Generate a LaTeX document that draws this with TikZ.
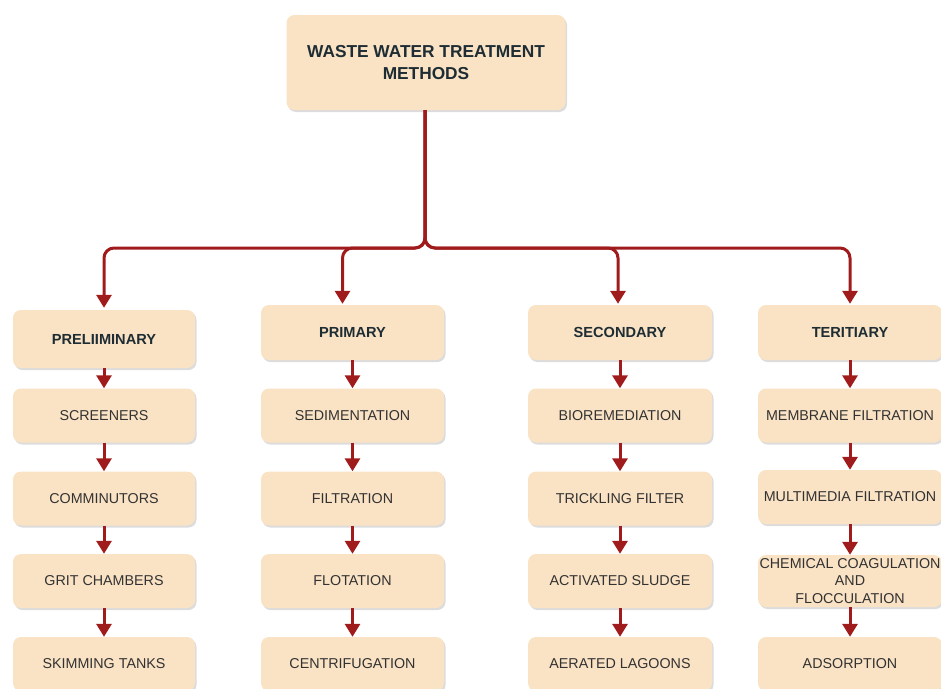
\documentclass[tikz,border=0pt]{standalone}
\usepackage{fontspec}
\setmainfont{Liberation Sans}
\usetikzlibrary{arrows.meta,shadows}
\definecolor{boxfill}{RGB}{250,226,196}
\definecolor{arrowred}{RGB}{160,28,28}
\definecolor{txt}{RGB}{50,50,50}
\definecolor{hdrtxt}{RGB}{30,45,52}
\begin{document}
\begin{tikzpicture}[x=1pt,y=-1pt,
  box/.style={fill=boxfill, rounded corners=8pt, minimum width=183pt, minimum height=54pt,
    inner sep=0pt, align=center, text=txt, font=\fontsize{14.3}{17.5}\selectfont,
    drop shadow={opacity=0.28, shadow xshift=1.5pt, shadow yshift=-2pt}},
  hdr/.style={box, text=hdrtxt, font=\fontsize{14.6}{17}\selectfont\bfseries},
  link/.style={draw=arrowred, line width=3pt, -{Triangle[width=15pt,length=13pt]}},
  branch/.style={link, rounded corners=10pt}]
\useasboundingbox (0,0) rectangle (941,688);
\clip (0,0) rectangle (941,688);

% root
\node[box, minimum width=279pt, minimum height=95pt, text=hdrtxt,
      font=\fontsize{17.3}{22}\selectfont\bfseries] (root) at (426,62.5)
      {WASTE WATER TREATMENT\\METHODS};

% headers
\node[hdr, minimum width=182pt, minimum height=58pt] (h1) at (104,339) {PRELIIMINARY};
\node[hdr, minimum height=55pt] (h2) at (352.5,332.5) {PRIMARY};
\node[hdr, minimum width=184pt, minimum height=55pt] (h3) at (620,332.5) {SECONDARY};
\node[hdr, minimum width=184pt, minimum height=55pt] (h4) at (850,332.5) {TERITIARY};

% column 1
\node[box, minimum width=182pt] (a1) at (104,415.5) {SCREENERS};
\node[box, minimum width=182pt] (a2) at (104,498.5) {COMMINUTORS};
\node[box, minimum width=182pt] (a3) at (104,581) {GRIT CHAMBERS};
\node[box, minimum width=182pt] (a4) at (104,664) {SKIMMING TANKS};
% column 2
\node[box] (b1) at (352.5,415.5) {SEDIMENTATION};
\node[box] (b2) at (352.5,498.5) {FILTRATION};
\node[box] (b3) at (352.5,581) {FLOTATION};
\node[box] (b4) at (352.5,664) {CENTRIFUGATION};
% column 3
\node[box, minimum width=184pt] (c1) at (620,415.5) {BIOREMEDIATION};
\node[box, minimum width=184pt] (c2) at (620,498.5) {TRICKLING FILTER};
\node[box, minimum width=184pt] (c3) at (620,581) {ACTIVATED SLUDGE};
\node[box, minimum width=184pt] (c4) at (620,664) {AERATED LAGOONS};
% column 4
\node[box, minimum width=184pt] (d1) at (850,415.5) {MEMBRANE FILTRATION};
\node[box, minimum width=184pt] (d2) at (850,497) {MULTIMEDIA FILTRATION};
\node[box, minimum width=184pt, minimum height=52pt] (d3) at (850,581)
      {CHEMICAL COAGULATION\\AND\\FLOCCULATION};
\node[box, minimum width=184pt] (d4) at (850,664) {ADSORPTION};

% tree branches
\coordinate (bus) at (425,248);
\coordinate (t1) at ([yshift=2pt]h1.north);
\coordinate (t2) at ([xshift=-10pt,yshift=1pt]h2.north);
\coordinate (t3) at ([xshift=-2pt,yshift=1pt]h3.north);
\coordinate (t4) at ([yshift=1pt]h4.north);
\coordinate (s) at ([xshift=-1pt]root.south);
\foreach \t in {t1,t2,t3,t4}
  \draw[branch] (s) -- (bus) -- (bus -| \t) -- (\t);

% column chains
\foreach \p/\q in {h1/a1,a1/a2,a2/a3,a3/a4,
                   h2/b1,b1/b2,b2/b3,b3/b4,
                   h3/c1,c1/c2,c2/c3,c3/c4,
                   h4/d1,d1/d2,d2/d3,d3/d4}
  \draw[link] (\p.south) -- (\q.north);
\end{tikzpicture}
\end{document}
